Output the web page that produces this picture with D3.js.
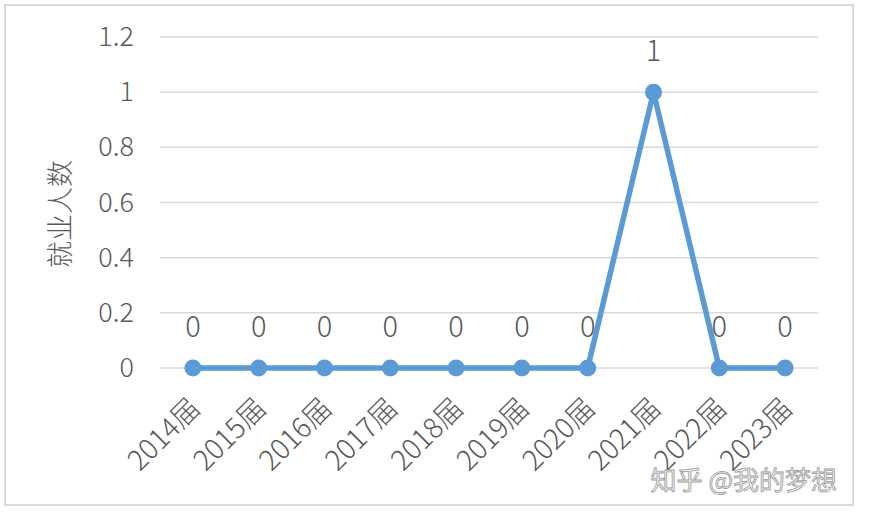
<!DOCTYPE html>
<html><head><meta charset="utf-8">
<script src="https://cdn.jsdelivr.net/npm/d3@7"></script>
<style>body{margin:0;background:#fff;}svg{display:block;font-family:"Noto Sans CJK SC","Noto Sans",sans-serif;font-weight:300;}</style>
</head><body>
<svg id="c" width="872" height="516"></svg>
<script>
const categories = ["2014届","2015届","2016届","2017届","2018届","2019届","2020届","2021届","2022届","2023届"];
const values = [0,0,0,0,0,0,0,1,0,0];
const yTicks = [0,0.2,0.4,0.6,0.8,1,1.2];
const yTitle = "就业人数";
const watermark = "知乎 @我的梦想";

const svg = d3.select("#c");
svg.append("rect").attr("x",5).attr("y",5).attr("width",848).attr("height",500)
  .attr("fill","#fff").attr("stroke","#d9d9d9").attr("stroke-width",2);

const x = d3.scaleBand().domain(categories).range([160,818]);
const y = d3.scaleLinear().domain([0,1.2]).range([368,37]);
const gray = "#595959";
const font = "'Noto Sans CJK SC', 'Noto Sans', sans-serif";

// gridlines
svg.append("g").selectAll("line").data(yTicks).join("line")
  .attr("x1",160).attr("x2",818).attr("y1",d=>y(d)).attr("y2",d=>y(d))
  .attr("stroke","#d9d9d9").attr("stroke-width",1.5);

// y axis labels
const yAxis = d3.axisLeft(y).tickValues(yTicks).tickFormat(d=>String(d)).tickSize(0).tickPadding(0);
const ga = svg.append("g").attr("transform","translate(134,0)").call(yAxis);
ga.select(".domain").remove();
ga.selectAll("text").attr("font-size",27).attr("fill",gray).attr("font-family",font).attr("font-weight",300);

// y title
svg.append("text").attr("transform","translate(70,214) rotate(-90)").attr("text-anchor","middle")
  .attr("font-size",27).attr("fill",gray).attr("font-family",font).attr("font-weight",300).text(yTitle);

// x axis labels
const xAxis = d3.axisBottom(x).tickSize(0).tickPadding(0);
const gx = svg.append("g").attr("transform","translate(0,378)").call(xAxis);
gx.select(".domain").remove();
gx.selectAll("text").attr("font-size",28).attr("fill",gray).attr("font-family",font).attr("font-weight",300)
  .attr("text-anchor","end").attr("dy",0)
  .attr("transform","translate(9,32) rotate(-45)");

// line
const cx = d=>x(d)+x.bandwidth()/2;
svg.append("path").datum(values.map((v,i)=>[categories[i],v]))
  .attr("fill","none").attr("stroke","#5B9BD5").attr("stroke-width",5.5).attr("stroke-linejoin","round")
  .attr("d",d3.line().x(d=>cx(d[0])).y(d=>y(d[1])));
svg.append("g").selectAll("circle").data(values).join("circle")
  .attr("cx",(d,i)=>cx(categories[i])).attr("cy",d=>y(d)).attr("r",8.5).attr("fill","#5B9BD5");

// data labels
svg.append("g").selectAll("text").data(values).join("text")
  .attr("x",(d,i)=>cx(categories[i])).attr("y",d=>y(d)-31).attr("text-anchor","middle")
  .attr("font-size",29).attr("fill",gray).attr("font-family",font).attr("font-weight",300).text(d=>d);

// watermark
svg.append("text").attr("x",837).attr("y",490).attr("text-anchor","end")
  .attr("font-size",26).attr("fill","#f4f4f4").attr("stroke","#9a9a9a").attr("stroke-width",0.8)
  .attr("font-family",font).attr("font-weight",400)
  .text(watermark);
</script>
</body></html>
